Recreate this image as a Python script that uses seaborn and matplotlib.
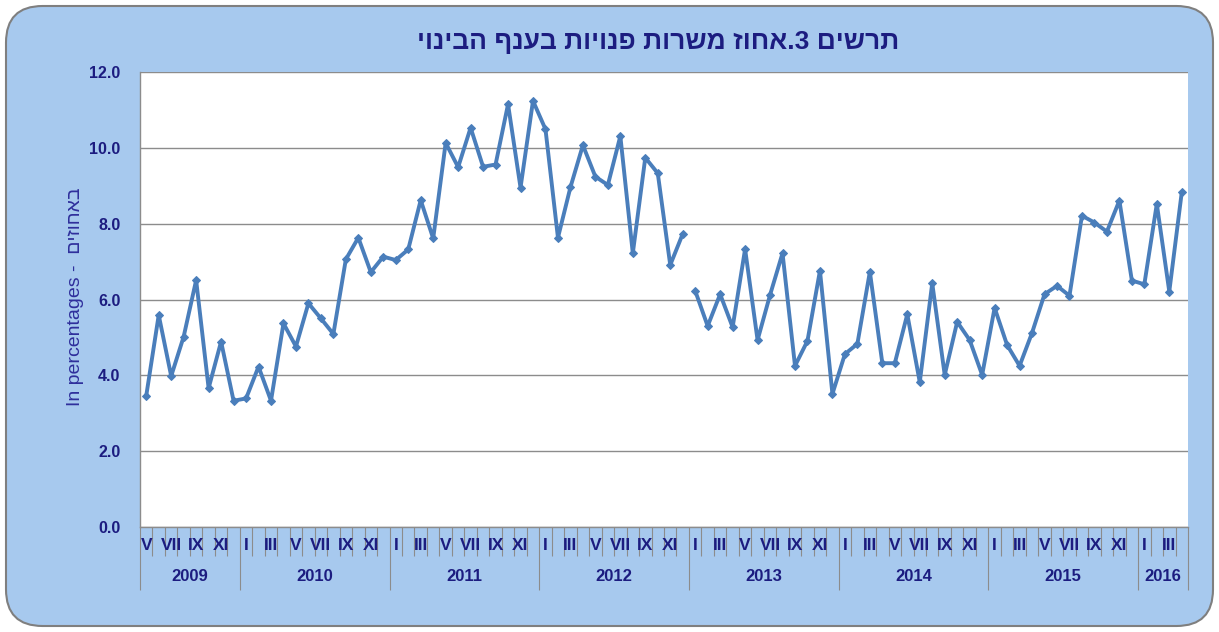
import matplotlib
matplotlib.use("Agg")
import matplotlib.pyplot as plt
from matplotlib.patches import FancyBboxPatch
import pandas as pd
import seaborn as sns

# ---------------- DATA ----------------
YEARS = ["2009", "2010", "2011", "2012", "2013", "2014", "2015", "2016"]
MONTHS_IN_YEAR = [8, 12, 12, 12, 12, 12, 12, 4]   # May 2009 .. Apr 2016
FIRST_MONTH = 5
ROMAN = ["I", "II", "III", "IV", "V", "VI", "VII", "VIII", "IX", "X", "XI", "XII"]

# vacancy rate, May 2009 - Dec 2012
RATE_2009_2012 = [
    3.46, 5.59, 3.98, 5.02, 6.51, 3.66, 4.89, 3.33,
    3.39, 4.23, 3.33, 5.37, 4.76, 5.90, 5.50, 5.09, 7.06, 7.63, 6.72, 7.13,
    7.04, 7.32, 8.62, 7.61, 10.13, 9.49, 10.53, 9.50, 9.56, 11.15, 8.95, 11.24,
    10.49, 7.63, 8.96, 10.07, 9.24, 9.02, 10.31, 7.22, 9.74, 9.33, 6.91, 7.73,
]
# vacancy rate, Jan 2013 - Apr 2016
RATE_2013_2016 = [
    6.23, 5.30, 6.14, 5.27, 7.33, 4.93, 6.12, 7.22, 4.25, 4.91, 6.76, 3.51,
    4.56, 4.83, 6.73, 4.32, 4.32, 5.61, 3.82, 6.43, 4.01, 5.41, 4.93, 4.01,
    5.78, 4.80, 4.25, 5.12, 6.14, 6.36, 6.10, 8.21, 8.03, 7.79, 8.61, 6.50,
    6.40, 8.52, 6.21, 8.83,
]

TITLE = "יוניבה ףנעב תויונפ תורשמ זוחא.3 םישרת"   # visual order (RTL)
YLABEL = "In percentages -  םיזוחאב"

# ---------------- STYLE ----------------
BG_BLUE = "#A7C9EE"
LINE_BLUE = "#4A7EBB"
NAVY = "#1C1C80"
GRID = "#8C8C8C"
NARROW = ["Liberation Sans Narrow", "Liberation Sans", "DejaVu Sans"]

sns.set_theme(style="white")
plt.rcParams["font.family"] = ["Liberation Sans", "DejaVu Sans"]

# ---------------- BUILD FRAME ----------------
rates = RATE_2009_2012 + RATE_2013_2016
df = pd.DataFrame({
    "pos": [i + 0.5 for i in range(len(rates))],
    "rate": rates,
    "segment": [0] * len(RATE_2009_2012) + [1] * len(RATE_2013_2016),
})

fig = plt.figure(figsize=(12.19, 6.32), dpi=100)
fig.patch.set_facecolor("white")
frame = FancyBboxPatch((6 / 1219, 6 / 632), 1207 / 1219, 620 / 632,
                       boxstyle="round,pad=0,rounding_size=0.03",
                       transform=fig.transFigure, facecolor=BG_BLUE,
                       edgecolor="#7F7F7F", linewidth=1.5,
                       mutation_aspect=1219 / 632, zorder=-10)
fig.patches.append(frame)

ax = fig.add_axes([140 / 1219, 1 - 527 / 632, 1048 / 1219, 455 / 632])
ax.set_facecolor("white")

for seg in (0, 1):
    sns.lineplot(data=df[df["segment"] == seg], x="pos", y="rate", ax=ax,
                 color=LINE_BLUE, linewidth=2.8, marker="D", markersize=4.5,
                 markeredgecolor=LINE_BLUE, zorder=3)

n = len(rates)
ax.set_xlim(0, n)
ax.set_ylim(0, 12)
ax.set_yticks(range(0, 13, 2))
ax.set_yticklabels([f"{v:.1f}" for v in range(0, 13, 2)],
                   fontsize=11.5, fontweight="bold", color=NAVY)
ax.yaxis.grid(True, color=GRID, linewidth=1)
ax.set_axisbelow(True)
ax.tick_params(axis="y", length=0, pad=14)
for s in ("top", "right"):
    ax.spines[s].set_visible(False)
for s in ("left", "bottom"):
    ax.spines[s].set_color(GRID)
    ax.spines[s].set_linewidth(1)

# category ticks: year boundaries long, month boundaries short
year_edges = [0]
for m in MONTHS_IN_YEAR:
    year_edges.append(year_edges[-1] + m)
ax.set_xticks(year_edges)
ax.set_xticks([i for i in range(n + 1) if i not in year_edges], minor=True)
ax.tick_params(axis="x", which="major", length=45, width=0.8, color=GRID,
               labelbottom=False, direction="out", bottom=True)
ax.tick_params(axis="x", which="minor", length=21, width=0.8, color=GRID,
               labelbottom=False, direction="out", bottom=True)
ax.set_xlabel("")
ax.set_ylabel("")

trans = ax.get_xaxis_transform()
pos = 0
for year, count in zip(YEARS, MONTHS_IN_YEAR):
    first = FIRST_MONTH if year == YEARS[0] else 1
    for k in range(count):
        month = first + k
        if month % 2 == 1:
            ax.text(pos + k + 0.5, -0.04, ROMAN[month - 1], transform=trans,
                    ha="center", va="center", fontsize=12.5, fontweight="bold",
                    color=NAVY, family=NARROW)
    ax.text(pos + count / 2, -0.108, year, transform=trans, ha="center",
            va="center", fontsize=12, fontweight="bold", color=NAVY)
    pos += count

fig.text(75 / 1219, 1 - 297 / 632, YLABEL, rotation=90, ha="center",
         va="center", fontsize=14, color="#2F2F9C")
fig.text(658 / 1219, 1 - 42 / 632, TITLE, ha="center", va="center",
         fontsize=19, fontweight="bold", color=NAVY, family=NARROW)

fig.savefig("out.png", dpi=100, facecolor="white")
